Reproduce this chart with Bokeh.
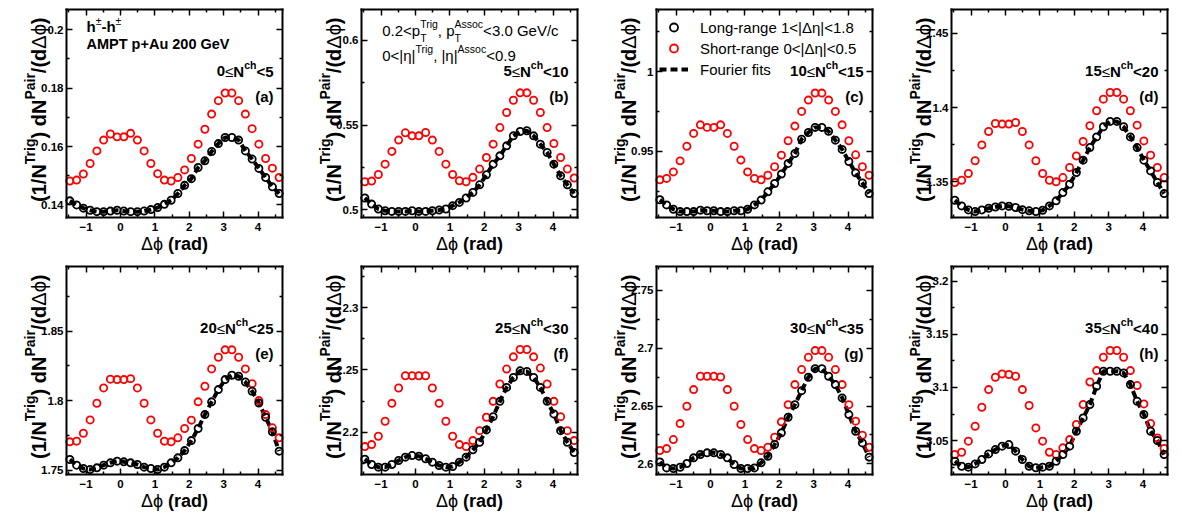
import glob
import math

from bokeh.embed import file_html
from bokeh.layouts import gridplot
from bokeh.models import FixedTicker, Label, Legend, LegendItem, LinearAxis, Range1d
from bokeh.plotting import figure
from bokeh.resources import INLINE

# ---------------------------------------------------------------- data
# centres of the 32 delta-phi bins covering [-pi/2, 3pi/2]
dphi = [-1.4726, -1.2763, -1.0799, -0.8836, -0.6872, -0.4909, -0.2945, -0.0982,
        0.0982, 0.2945, 0.4909, 0.6872, 0.8836, 1.0799, 1.2763, 1.4726,
        1.6690, 1.8653, 2.0617, 2.2580, 2.4544, 2.6507, 2.8471, 3.0434,
        3.2398, 3.4361, 3.6325, 3.8288, 4.0252, 4.2215, 4.4179, 4.6142]

nch_lo = ["0", "5", "10", "15", "20", "25", "30", "35"]
nch_hi = ["5", "10", "15", "20", "25", "30", "35", "40"]
tags = ["(a)", "(b)", "(c)", "(d)", "(e)", "(f)", "(g)", "(h)"]

# short-range 0<|deta|<0.5 (red) and long-range 1<|deta|<1.8 (black)
sr_a = [0.1482, 0.1485, 0.1506, 0.1542, 0.1585, 0.1622, 0.1643, 0.1633, 0.1633, 0.1645, 0.1622, 0.1585, 0.1542, 0.1507, 0.1485, 0.1482,
        0.1494, 0.1520, 0.1559, 0.1608, 0.1659, 0.1711, 0.1757, 0.1783, 0.1783, 0.1757, 0.1711, 0.1661, 0.1608, 0.1559, 0.1526, 0.1494]
lr_a = [0.1414, 0.1400, 0.1389, 0.1382, 0.1377, 0.1377, 0.1379, 0.1382, 0.1379, 0.1377, 0.1377, 0.1379, 0.1384, 0.1391, 0.1402, 0.1416,
        0.1439, 0.1467, 0.1490, 0.1528, 0.1551, 0.1583, 0.1610, 0.1631, 0.1631, 0.1622, 0.1585, 0.1557, 0.1525, 0.1494, 0.1462, 0.1439]

sr_b = [0.5165, 0.5169, 0.5208, 0.5269, 0.5344, 0.5411, 0.5454, 0.5436, 0.5436, 0.5456, 0.5411, 0.5344, 0.5269, 0.5208, 0.5171, 0.5165,
        0.5191, 0.5240, 0.5308, 0.5387, 0.5485, 0.5574, 0.5646, 0.5690, 0.5690, 0.5646, 0.5574, 0.5485, 0.5391, 0.5308, 0.5240, 0.5187]
lr_b = [0.5069, 0.5033, 0.5004, 0.4994, 0.4990, 0.4990, 0.4990, 0.4994, 0.4990, 0.4990, 0.4994, 0.4998, 0.5004, 0.5024, 0.5043, 0.5069,
        0.5102, 0.5147, 0.5206, 0.5269, 0.5318, 0.5377, 0.5436, 0.5462, 0.5466, 0.5436, 0.5387, 0.5338, 0.5269, 0.5200, 0.5147, 0.5096]

sr_c = [0.9322, 0.9331, 0.9372, 0.9441, 0.9533, 0.9613, 0.9667, 0.9651, 0.9651, 0.9667, 0.9613, 0.9533, 0.9446, 0.9372, 0.9331, 0.9322,
        0.9351, 0.9404, 0.9477, 0.9567, 0.9659, 0.9751, 0.9822, 0.9866, 0.9866, 0.9822, 0.9751, 0.9667, 0.9567, 0.9479, 0.9404, 0.9351]
lr_c = [0.9197, 0.9165, 0.9138, 0.9123, 0.9123, 0.9123, 0.9132, 0.9128, 0.9128, 0.9123, 0.9123, 0.9128, 0.9128, 0.9138, 0.9165, 0.9195,
        0.9247, 0.9299, 0.9358, 0.9425, 0.9487, 0.9577, 0.9619, 0.9651, 0.9651, 0.9626, 0.9571, 0.9513, 0.9437, 0.9366, 0.9303, 0.9236]

sr_d = [1.3496, 1.3511, 1.3556, 1.3642, 1.3749, 1.3839, 1.3893, 1.3889, 1.3889, 1.3900, 1.3839, 1.3749, 1.3642, 1.3556, 1.3511, 1.3500,
        1.3529, 1.3597, 1.3675, 1.3772, 1.3878, 1.3979, 1.4057, 1.4102, 1.4102, 1.4057, 1.3979, 1.3882, 1.3776, 1.3680, 1.3597, 1.3529]
lr_d = [1.3376, 1.3338, 1.3311, 1.3300, 1.3311, 1.3322, 1.3331, 1.3338, 1.3336, 1.3327, 1.3313, 1.3305, 1.3300, 1.3309, 1.3338, 1.3372,
        1.3428, 1.3484, 1.3563, 1.3646, 1.3731, 1.3803, 1.3871, 1.3907, 1.3907, 1.3871, 1.3803, 1.3731, 1.3646, 1.3574, 1.3496, 1.3421]

sr_e = [1.7704, 1.7709, 1.7766, 1.7862, 1.7982, 1.8092, 1.8155, 1.8152, 1.8152, 1.8159, 1.8092, 1.7982, 1.7862, 1.7766, 1.7709, 1.7704,
        1.7733, 1.7800, 1.7860, 1.7992, 1.8104, 1.8229, 1.8313, 1.8366, 1.8366, 1.8313, 1.8229, 1.8123, 1.8001, 1.7900, 1.7805, 1.7733]
lr_e = [1.7577, 1.7536, 1.7512, 1.7505, 1.7517, 1.7536, 1.7553, 1.7565, 1.7560, 1.7553, 1.7541, 1.7522, 1.7512, 1.7505, 1.7522, 1.7553,
        1.7589, 1.7641, 1.7713, 1.7800, 1.7900, 1.7992, 1.8080, 1.8152, 1.8183, 1.8176, 1.8135, 1.8068, 1.7984, 1.7881, 1.7776, 1.7637]

sr_f = [2.1885, 2.1901, 2.1968, 2.2088, 2.2232, 2.2355, 2.2453, 2.2453, 2.2453, 2.2453, 2.2355, 2.2232, 2.2088, 2.1968, 2.1901, 2.1885,
        2.1933, 2.2013, 2.2120, 2.2248, 2.2387, 2.2507, 2.2605, 2.2664, 2.2664, 2.2605, 2.2515, 2.2387, 2.2248, 2.2125, 2.2013, 2.1933]
lr_f = [2.1784, 2.1741, 2.1720, 2.1720, 2.1741, 2.1773, 2.1800, 2.1813, 2.1808, 2.1787, 2.1760, 2.1733, 2.1720, 2.1725, 2.1760, 2.1800,
        2.1859, 2.1920, 2.2019, 2.2125, 2.2248, 2.2360, 2.2440, 2.2493, 2.2488, 2.2440, 2.2360, 2.2248, 2.2147, 2.2013, 2.1920, 2.1837]

sr_g = [2.6115, 2.6132, 2.6210, 2.6348, 2.6498, 2.6642, 2.6757, 2.6757, 2.6757, 2.6751, 2.6642, 2.6498, 2.6340, 2.6210, 2.6132, 2.6115,
        2.6144, 2.6230, 2.6363, 2.6512, 2.6685, 2.6815, 2.6921, 2.6979, 2.6979, 2.6921, 2.6815, 2.6685, 2.6512, 2.6369, 2.6248, 2.6144]
lr_g = [2.6017, 2.5965, 2.5960, 2.5971, 2.6003, 2.6052, 2.6081, 2.6095, 2.6095, 2.6081, 2.6052, 2.5994, 2.5960, 2.5960, 2.5965, 2.6009,
        2.6066, 2.6167, 2.6268, 2.6403, 2.6512, 2.6633, 2.6749, 2.6823, 2.6823, 2.6757, 2.6685, 2.6570, 2.6426, 2.6282, 2.6181, 2.6058]

sr_h = [3.0368, 3.0390, 3.0494, 3.0635, 3.0814, 3.0980, 3.1096, 3.1128, 3.1122, 3.1106, 3.0980, 3.0830, 3.0619, 3.0494, 3.0390, 3.0368,
        3.0431, 3.0509, 3.0651, 3.0839, 3.1052, 3.1159, 3.1285, 3.1348, 3.1348, 3.1285, 3.1159, 3.1018, 3.0845, 3.0660, 3.0525, 3.0425]
lr_h = [3.0305, 3.0258, 3.0249, 3.0280, 3.0321, 3.0374, 3.0415, 3.0447, 3.0462, 3.0400, 3.0321, 3.0258, 3.0243, 3.0249, 3.0258, 3.0305,
        3.0368, 3.0447, 3.0588, 3.0713, 3.0839, 3.1012, 3.1153, 3.1153, 3.1153, 3.1137, 3.1027, 3.0870, 3.0745, 3.0588, 3.0500, 3.0368]

short_range = [sr_a, sr_b, sr_c, sr_d, sr_e, sr_f, sr_g, sr_h]
long_range = [lr_a, lr_b, lr_c, lr_d, lr_e, lr_f, lr_g, lr_h]
# the Fourier fit is drawn through the long-range points
fourier_fit = long_range

# axes
y_lo = [0.1357, 0.4954, 0.9086, 1.3260, 1.7469, 2.1661, 2.5908, 3.0180]
y_hi = [0.2069, 0.6182, 1.0390, 1.4661, 1.8966, 2.3330, 2.7706, 3.2140]
y_major = [[0.14, 0.16, 0.18, 0.2], [0.5, 0.55, 0.6], [0.95, 1.0], [1.35, 1.4, 1.45],
           [1.75, 1.8, 1.85], [2.2, 2.25, 2.3], [2.6, 2.65, 2.7, 2.75], [3.05, 3.1, 3.15, 3.2]]
y_major_text = [["0.14", "0.16", "0.18", "0.2"], ["0.5", "0.55", "0.6"], ["0.95", "1"], ["1.35", "1.4", "1.45"],
                ["1.75", "1.8", "1.85"], ["2.2", "2.25", "2.3"], ["2.6", "2.65", "2.7", "2.75"], ["3.05", "3.1", "3.15", "3.2"]]
y_minor = [[0.15, 0.17, 0.19], [0.525, 0.575], [0.925, 0.975, 1.025], [1.375, 1.425],
           [1.775, 1.825, 1.875], [2.175, 2.225, 2.275, 2.325], [2.625, 2.675, 2.725], [3.025, 3.075, 3.125, 3.175]]
x_major = [-1, 0, 1, 2, 3, 4]
x_major_text = ["\u22121", "0", "1", "2", "3", "4"]
x_minor = [-1.5, -0.5, 0.5, 1.5, 2.5, 3.5, 4.5]
X_LO, X_HI = -math.pi / 2, 3 * math.pi / 2

# ---------------------------------------------------------------- text helpers
FONT = "Liberation Sans"
# plot box inside each panel, in pixels from the panel's top-left corner
BOX_L, BOX_T, BOX_W, BOX_H = 66, 9, 216, 208
MID = 0.35  # distance from baseline to the middle anchor, in em

_fonts = {}


def _pil_font(bold):
    if bold not in _fonts:
        name = "LiberationSans-Bold.ttf" if bold else "LiberationSans-Regular.ttf"
        hits = []
        for root in ("/usr/share/fonts", "/usr/local/share/fonts"):
            hits += glob.glob(root + "/**/" + name, recursive=True)
        font = None
        if hits:
            try:
                from PIL import ImageFont
                font = ImageFont.truetype(hits[0], 200)
            except Exception:
                font = None
        _fonts[bold] = font
    return _fonts[bold]


_ADV_REG = {" ": 278, "(": 333, ")": 333, "+": 584, ",": 278, "-": 333, ".": 278, "/": 278, "<": 584,
            "|": 260, "\u0394": 612, "\u03b7": 556, "\u03d5": 660, "\u2264": 549, "\u00b1": 584,
            "A": 667, "G": 778, "L": 556, "S": 667, "T": 611, "V": 667, "F": 611,
            "a": 556, "c": 500, "e": 556, "f": 278, "g": 556, "h": 556, "i": 222, "n": 556,
            "o": 556, "p": 556, "r": 333, "s": 500, "t": 278, "u": 556}
_ADV_BOLD = {" ": 278, "(": 333, ")": 333, "+": 584, "-": 333, ".": 278, "/": 278, "<": 584,
             "A": 722, "G": 778, "M": 833, "N": 722, "P": 667, "T": 611, "V": 667,
             "a": 556, "c": 556, "d": 611, "e": 556, "g": 611, "h": 611, "i": 278, "p": 611,
             "r": 389, "u": 611}


def text_width(s, size, bold):
    font = _pil_font(bold)
    if font is not None:
        return font.getlength(s) * size / 200.0
    table = _ADV_BOLD if bold else _ADV_REG
    return sum(table.get(ch, 556) for ch in s) * size / 1000.0


def rich_text(p, panel_h, segs, x, y, size, align="left", angle=0.0,
              script=0.7, rise=0.52, drop=0.44):
    """Text with super/subscripts.  x, y: baseline start in pixels from the
    panel's top-left; segs: (text, kind, bold), kind n / sup / sub / stack."""
    small = size * script
    widths = []
    for text, kind, bold in segs:
        if kind == "n":
            widths.append(text_width(text, size, bold))
        elif kind == "stack":
            widths.append(max(text_width(t, small, bold) for t in text))
        else:
            widths.append(text_width(text, small, bold))
    total = sum(widths)
    pos = {"left": 0.0, "center": -total / 2.0, "right": -total}[align]
    dx, dy = math.cos(angle), -math.sin(angle)
    ux, uy = -math.sin(angle), -math.cos(angle)
    for (text, kind, bold), w in zip(segs, widths):
        if kind == "stack":
            parts = [(text[0], small, -drop * size), (text[1], small, rise * size)]
        elif kind == "sup":
            parts = [(text, small, rise * size)]
        elif kind == "sub":
            parts = [(text, small, -drop * size)]
        else:
            parts = [(text, size, 0.0)]
        for t, fs, r in parts:
            body = t.lstrip(" ")
            lead = text_width(t[:len(t) - len(body)], fs, bold) if body != t else 0.0
            along = pos + lead
            up = r + MID * fs
            px = x + dx * along + ux * up
            py = y + dy * along + uy * up
            p.add_layout(Label(x=px, y=panel_h - py, x_units="screen", y_units="screen",
                               text=body.rstrip(" "), angle=angle, text_font=FONT,
                               text_font_style="bold" if bold else "normal",
                               text_font_size="%.1fpx" % fs, text_color="black",
                               text_align="left", text_baseline="middle"))
        pos += w


def style_axis(ax, ticks, minor, labels, show_labels):
    ax.ticker = FixedTicker(ticks=ticks, minor_ticks=minor)
    ax.major_label_overrides = dict(zip(ticks, labels))
    ax.axis_line_color = "black"
    ax.axis_line_width = 2
    ax.axis_line_cap = "square"
    ax.major_tick_in = 6
    ax.major_tick_out = 0
    ax.minor_tick_in = 3
    ax.minor_tick_out = 0
    ax.major_tick_line_color = "black"
    ax.minor_tick_line_color = "black"
    ax.major_tick_line_width = 1.5
    ax.minor_tick_line_width = 1.5
    ax.major_label_text_font = FONT
    ax.major_label_text_font_style = "bold"
    ax.major_label_text_font_size = "11.5px"
    ax.major_label_text_color = "black" if show_labels else None
    ax.axis_label = None


# ---------------------------------------------------------------- panels
RED = "#ff0000"
DPHI = "\u0394\u03d5"
figs = []
for k in range(8):
    row, col = divmod(k, 4)
    W = 297 if col == 3 else 295
    H = 257 if row == 0 else 258
    # the figure frame fills the panel; the plot box is placed with fixed-location axes
    sx = (X_HI - X_LO) / BOX_W
    sy = (y_hi[k] - y_lo[k]) / BOX_H
    p = figure(width=W, height=H, title=None, output_backend="svg", toolbar_location=None,
               x_range=Range1d(X_LO - BOX_L * sx, X_HI + (W - BOX_L - BOX_W) * sx),
               y_range=Range1d(y_lo[k] - (H - BOX_T - BOX_H) * sy, y_hi[k] + BOX_T * sy),
               min_border=0, min_border_left=0, min_border_right=0,
               min_border_top=0, min_border_bottom=0)
    p.xgrid.visible = False
    p.ygrid.visible = False
    p.background_fill_color = "white"
    p.border_fill_color = "white"
    p.outline_line_color = None

    bottom, left = p.xaxis[0], p.yaxis[0]
    top, right = LinearAxis(), LinearAxis()
    p.add_layout(top, "above")
    p.add_layout(right, "right")
    for ax, loc, show in ((bottom, y_lo[k], True), (top, y_hi[k], False)):
        style_axis(ax, x_major, x_minor, x_major_text, show)
        ax.fixed_location = loc
        ax.bounds = (X_LO, X_HI)
    for ax, loc, show in ((left, X_LO, True), (right, X_HI, False)):
        style_axis(ax, y_major[k], y_minor[k], y_major_text[k], show)
        ax.fixed_location = loc
        ax.bounds = (y_lo[k], y_hi[k])
    bottom.major_label_standoff = 5
    left.major_label_standoff = 3

    fit = p.line(dphi, fourier_fit[k], line_color="black", line_width=4, line_dash="7 4")
    sr = p.scatter(dphi, short_range[k], marker="circle", size=7.2, fill_color=None,
                   line_color=RED, line_width=1.8)
    lr = p.scatter(dphi, long_range[k], marker="circle", size=7.2, fill_color=None,
                   line_color="black", line_width=1.8)

    # axis titles
    rich_text(p, H, [("(1/N", "n", True), ("Trig", "sup", True), (") dN", "n", True),
                     ("Pair", "sup", True), ("/(d", "n", True), (DPHI, "n", False),
                     (")", "n", True)],
              45, 17, 20, align="right", angle=math.pi / 2)
    rich_text(p, H, [(DPHI, "n", False), (" (rad)", "n", True)],
              BOX_L + BOX_W / 2, 250, 18, align="center")

    # multiplicity class and panel tag
    rich_text(p, H, [(nch_lo[k], "n", True), ("\u2264", "n", False), ("N", "n", True),
                     ("ch", "sup", True), ("<" + nch_hi[k], "n", True)],
              273, 76, 15, align="right")
    rich_text(p, H, [(tags[k], "n", True)], 273, 101.5, 15, align="right")

    if k == 0:
        rich_text(p, H, [("h", "n", True), ("\u00b1", "sup", False), ("-h", "n", True),
                         ("\u00b1", "sup", False)], 86, 31.5, 15)
        rich_text(p, H, [("AMPT p+Au 200 GeV", "n", True)], 86, 48.5, 14.5)
    if k == 1:
        rich_text(p, H, [("0.2<p", "n", False), (("T", "Trig"), "stack", False), (", p", "n", False),
                         (("T", "Assoc"), "stack", False), ("<3.0 GeV/c", "n", False)],
                  86.7, 35, 15)
        rich_text(p, H, [("0<|\u03b7|", "n", False), ("Trig", "sup", False), (", |\u03b7|", "n", False),
                         ("Assoc", "sup", False), ("<0.9", "n", False)],
                  86.7, 60, 15)
    if k == 2:
        legend = Legend(items=[LegendItem(label="Long-range 1<|\u0394\u03b7|<1.8", renderers=[lr]),
                               LegendItem(label="Short-range 0<|\u0394\u03b7|<0.5", renderers=[sr]),
                               LegendItem(label="Fourier fits", renderers=[fit])],
                        location=(69, H - 79), orientation="vertical",
                        border_line_color=None, background_fill_alpha=0.0,
                        label_text_font=FONT, label_text_font_size="15px",
                        label_text_color="black",
                        glyph_width=29, glyph_height=20, label_height=20,
                        label_standoff=12, spacing=1, padding=0, margin=0)
        p.add_layout(legend)
    figs.append(p)

grid = gridplot([figs[:4], figs[4:]], toolbar_location=None)

with open("out.html", "w") as f:
    f.write(file_html(grid, INLINE))
